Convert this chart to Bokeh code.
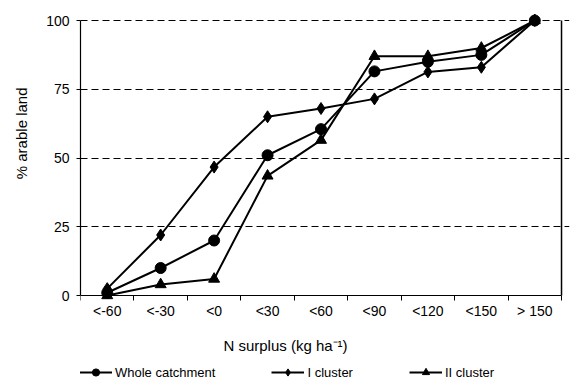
from bokeh.plotting import figure
from bokeh.models import (Range1d, FixedTicker, Title, Legend, LegendItem, Label)
from bokeh.embed import file_html
from bokeh.resources import INLINE

categories = ["<-60", "<-30", "<0", "<30", "<60", "<90", "<120", "<150", "> 150"]
whole_catchment = [1, 10, 20, 51, 60.5, 81.5, 85, 87.5, 100]
cluster_1 = [2.5, 22, 46.7, 65, 68, 71.5, 81.3, 83, 100]
cluster_2 = [0, 4, 6, 43.5, 56.5, 87, 87, 90, 100]
y_ticks = [0, 25, 50, 75, 100]

FONT = "Liberation Sans"

n = len(categories)
xs = [i + 0.5 for i in range(n)]
boundaries = list(range(n + 1))

# frame spans the whole height; the 0..100 scale sits in pixels 20..295,
# the category axis in pixels 79..561
TOP_PAD, BOTTOM_PAD, RIGHT_PAD = 10, 0, 8
px_per_unit = (295 - 20) / 100.0
y_lo = -(389 - BOTTOM_PAD - 295) / px_per_unit
y_hi = 100 + (20 - TOP_PAD) / px_per_unit
x_hi = n * (577 - RIGHT_PAD - 79) / (561 - 79)

p = figure(width=577, height=389, output_backend="svg", toolbar_location=None,
           x_range=Range1d(0, x_hi), y_range=Range1d(y_lo, y_hi),
           min_border_left=79, min_border_right=RIGHT_PAD, min_border_top=TOP_PAD,
           min_border_bottom=BOTTOM_PAD)
p.outline_line_color = None
p.background_fill_color = "white"
p.border_fill_color = "white"

# x axis at y=0: labels at centres, ticks at boundaries
xa = p.xaxis[0]
xa.fixed_location = 0
xa.bounds = (0, n)
xa.ticker = FixedTicker(ticks=xs, minor_ticks=boundaries)
xa.major_label_overrides = {x: c for x, c in zip(xs, categories)}
xa.major_tick_out = 0
xa.major_tick_in = 0
xa.minor_tick_out = 5
xa.minor_tick_in = 0
xa.minor_tick_line_color = "black"
xa.axis_line_color = "black"
xa.axis_line_width = 1.2
xa.major_label_text_font = FONT
xa.major_label_text_font_size = "14px"
xa.major_label_text_color = "black"
xa.major_label_standoff = 2

ya = p.yaxis[0]
ya.bounds = (0, 100)
ya.ticker = FixedTicker(ticks=y_ticks)
ya.major_tick_out = 4
ya.major_tick_in = 0
ya.minor_tick_line_color = None
ya.axis_line_color = "black"
ya.axis_line_width = 1.2
ya.major_label_text_font = FONT
ya.major_label_text_font_size = "14px"
ya.major_label_text_color = "black"
ya.major_label_standoff = 7

p.xgrid.visible = False
p.ygrid.ticker = FixedTicker(ticks=[25, 50, 75, 100])
p.ygrid.bounds = (0, n)
p.ygrid.grid_line_color = "black"
p.ygrid.grid_line_dash = "7 4"
p.ygrid.grid_line_width = 1

# right border of the plot area (closes the box at the last category boundary)
p.line(x=[boundaries[-1], boundaries[-1]], y=[y_ticks[0], y_ticks[-1]],
       line_color="black", line_width=1.5)

r1l = p.line(xs, whole_catchment, line_color="black", line_width=2)
r1m = p.scatter(xs, whole_catchment, marker="circle", size=11, color="black")
r2l = p.line(xs, cluster_1, line_color="black", line_width=2)
r2m = p.scatter(xs, cluster_1, marker="diamond", size=12, color="black")
r3l = p.line(xs, cluster_2, line_color="black", line_width=2)
r3m = p.scatter(xs, cluster_2, marker="triangle", size=11, color="black")

ytitle = Title(text="% arable land", align="right", offset=77, vertical_align="top",
               text_font=FONT, text_font_size="15px", text_font_style="normal",
               text_color="black", standoff=24)
p.add_layout(ytitle, "left")

p.add_layout(Label(x=205, y=44, x_units="screen", y_units="screen",
                   text="N surplus (kg ha⁻¹)", text_align="center", text_baseline="middle",
                   text_font=FONT, text_font_size="15px", text_color="black"))

legend = Legend(items=[
    LegendItem(label="Whole catchment", renderers=[r1l, r1m]),
    LegendItem(label="I cluster", renderers=[r2l, r2m]),
    LegendItem(label="II cluster", renderers=[r3l, r3m]),
], orientation="horizontal", location=(-1, 8), padding=0, margin=0,
    spacing=56, glyph_width=33, glyph_height=18, label_standoff=3,
    border_line_color=None, background_fill_alpha=0,
    label_text_font=FONT, label_text_font_size="13px", label_text_color="black")
p.add_layout(legend, "center")

open("out.html", "w").write(file_html(p, INLINE))
